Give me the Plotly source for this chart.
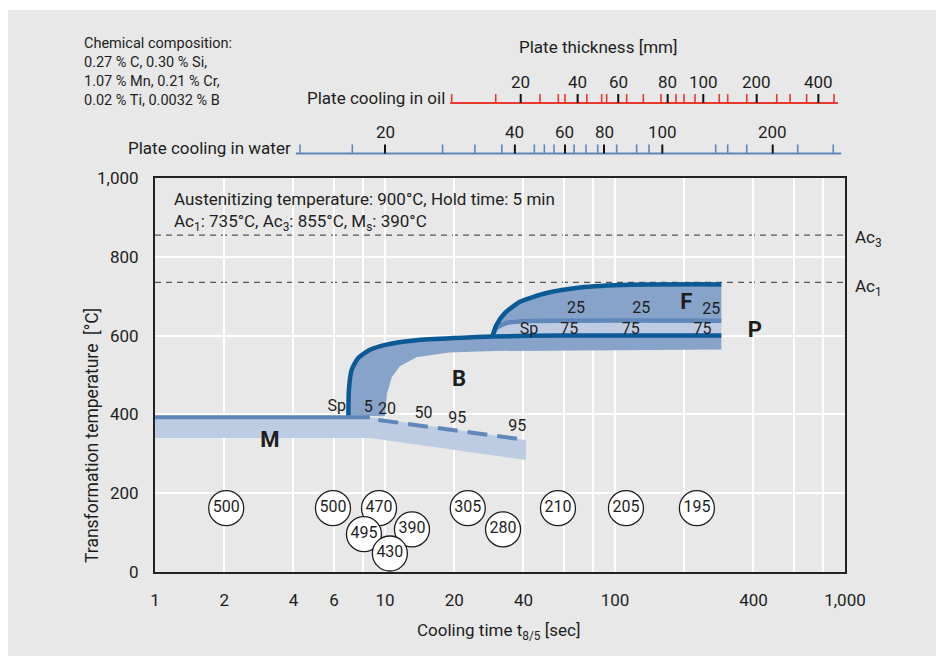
import math
import plotly.graph_objects as go

# ---------------- data ----------------
# hardness circles (cooling time t8/5 [s], temperature position [°C], HV value)
hardness_t = [2.04, 5.94, 9.42, 8.1, 13.1, 10.5, 22.9, 32.6, 56.5, 111.6, 227]
hardness_T = [162, 162, 162, 96, 108, 47, 162, 108, 162, 162, 162]
hardness_val = ["500", "500", "470", "495", "390", "430", "305", "280", "210", "205", "195"]

# martensite start line and martensite band
ms_t = [1, 8.6]
ms_T = [393, 393]
m_top_t = [1, 8.6, 41]
m_top_T = [393, 393, 335]
m_bot_t = [1, 8.6, 41]
m_bot_T = [340, 340, 284]
m_dash_t = [9.35, 41]
m_dash_T = [386, 335]

# bainite start (outer) curve and inner boundary of the bainite band
b_out_t = [6.93, 6.97, 7.16, 7.65, 8.6, 10.15, 13.7, 20.4, 29.4, 60, 290]
b_out_T = [397, 463, 513, 543, 564, 577, 588, 594, 598, 600, 600]
b_in_t = [10.0, 10.2, 10.7, 11.6, 13.7, 19, 30, 80, 290]
b_in_T = [395, 452, 494, 522, 545, 557, 561, 563, 565]

# ferrite start curve and pearlite start line
f_t = [29.4, 30.5, 33.2, 38.6, 50.4, 70.4, 116, 290]
f_T = [600, 627, 657, 686, 708, 722, 729, 730]
p_t = [29.4, 30.5, 33.7, 42.6, 290]
p_T = [600, 619, 632, 637, 638]

# transformation percentage labels
lab_t = [6.17, 8.45, 10.2, 14.7, 20.6, 37.6, 67.6, 130, 262, 42.3, 63.2, 117, 240]
lab_T = [420, 417, 412, 401, 389, 368, 667, 667, 666, 615, 615, 615, 615]
lab_text = ["Sp", "5", "20", "50", "95", "95", "25", "25", "25", "Sp", "75", "75", "75"]
# phase labels
phase_t = [3.16, 21.0, 204, 406]
phase_T = [332, 487, 682, 610]
phase_text = ["M", "B", "F", "P"]

# critical temperatures
ac3 = 855
ac1 = 735

# plate thickness scales (cooling time positions of the scale ticks)
oil_range_t = [19.2, 931]
oil_minor_t = [19.5, 30.3, 47.2, 56.7, 60.6, 75.4, 87.5, 92.0, 112.4, 132.8, 158.5,
               184.2, 199.5, 222.7, 284, 309, 374, 505, 577, 681, 896]
oil_major_t = [38.9, 68.8, 103.3, 169.4, 242, 413, 766]
oil_major_lab = ["20", "40", "60", "80", "100", "200", "400"]

water_range_t = [4.1, 962]
water_minor_t = [4.27, 7.21, 17.8, 24.6, 32.2, 44.6, 49.3, 54.3, 66.4, 74.8, 84.1,
                 101.7, 124.2, 140.6, 274, 309, 374, 623, 889]
water_major_t = [10.0, 36.7, 60.6, 89.6, 160.6, 485]
water_major_lab = ["20", "40", "60", "80", "100", "200"]

x_tickvals = [1, 2, 4, 6, 10, 20, 40, 100, 400, 1000]
x_ticktext = ["1", "2", "4", "6", "10", "20", "40", "100", "400", "1,000"]
x_gridonly = [8, 60, 80, 200, 600, 800]
y_tickvals = [0, 200, 400, 600, 800, 1000]
y_ticktext = ["0", "200", "400", "600", "800", "1,000"]

composition = ["Chemical composition:", "0.27 % C, 0.30 % Si,",
               "1.07 % Mn, 0.21 % Cr,", "0.02 % Ti, 0.0032 % B"]
conditions = ["Austenitizing temperature: 900°C, Hold time: 5 min",
              "Ac<sub>1</sub>: 735°C, Ac<sub>3</sub>: 855°C, M<sub>s</sub>: 390°C"]

# ---------------- style ----------------
OFF = 8                     # page body margin
W, H = 944 - OFF, 660 - OFF
ML, MT = 155 - OFF, 178 - OFF
MR = W - (845 - OFF)
MB = H - (572 - OFF)
PW, PH = W - ML - MR, H - MT - MB
FONT = "Roboto"
TXT = "#1e1e1e"
BG = "#e7e8e7"
DARK = "#0b5a96"
MEDLINE = "#5f87ba"
MEDFILL = "#87a3c9"
LIGHT = "#bdcce3"
RED = "#e8392f"


def px(xp):
    """page pixel x -> paper"""
    return (xp - OFF - ML) / PW


def py(yp):
    """page pixel y -> paper"""
    return (H - MB - (yp - OFF)) / PH


fig = go.Figure()

# martensite band (light)
fig.add_trace(go.Scatter(x=m_top_t + m_bot_t[::-1], y=m_top_T + m_bot_T[::-1],
                         fill="toself", fillcolor=LIGHT, line=dict(width=0),
                         mode="lines", hoverinfo="skip", showlegend=False))
# bainite band (medium)
fig.add_trace(go.Scatter(x=b_out_t + b_in_t[::-1], y=b_out_T + b_in_T[::-1],
                         fill="toself", fillcolor=MEDFILL, line=dict(width=0),
                         mode="lines", hoverinfo="skip", showlegend=False))
# ferrite band (medium)
fig.add_trace(go.Scatter(x=f_t + p_t[::-1], y=f_T + p_T[::-1],
                         fill="toself", fillcolor=MEDFILL, line=dict(width=0),
                         mode="lines", hoverinfo="skip", showlegend=False))
# pearlite band (light)
b_tail = [(t, T) for t, T in zip(b_out_t, b_out_T) if t >= p_t[0]]
fig.add_trace(go.Scatter(x=p_t + [t for t, _ in b_tail][::-1],
                         y=p_T + [T for _, T in b_tail][::-1],
                         fill="toself", fillcolor=LIGHT, line=dict(width=0),
                         mode="lines", hoverinfo="skip", showlegend=False))

# lines
fig.add_trace(go.Scatter(x=ms_t, y=ms_T, mode="lines",
                         line=dict(color=MEDLINE, width=4), showlegend=False, hoverinfo="skip"))
fig.add_trace(go.Scatter(x=m_dash_t, y=m_dash_T, mode="lines",
                         line=dict(color=MEDLINE, width=4, dash="20px,10px"),
                         showlegend=False, hoverinfo="skip"))
fig.add_trace(go.Scatter(x=p_t, y=p_T, mode="lines",
                         line=dict(color=MEDLINE, width=4.5, shape="spline", smoothing=0.6),
                         showlegend=False, hoverinfo="skip"))
fig.add_trace(go.Scatter(x=b_out_t, y=b_out_T, mode="lines",
                         line=dict(color=DARK, width=4.5, shape="spline", smoothing=0.6),
                         showlegend=False, hoverinfo="skip"))
fig.add_trace(go.Scatter(x=f_t, y=f_T, mode="lines",
                         line=dict(color=DARK, width=4.5, shape="spline", smoothing=0.6),
                         showlegend=False, hoverinfo="skip"))

# labels
fig.add_trace(go.Scatter(x=lab_t, y=lab_T, mode="text", text=lab_text,
                         textfont=dict(family=FONT, size=16, color=TXT),
                         showlegend=False, hoverinfo="skip", cliponaxis=False))
fig.add_trace(go.Scatter(x=phase_t, y=phase_T, mode="text", text=["<b>%s</b>" % s for s in phase_text],
                         textfont=dict(family=FONT, size=22, color=TXT),
                         showlegend=False, hoverinfo="skip", cliponaxis=False))

# hardness circles
fig.add_trace(go.Scatter(x=hardness_t, y=hardness_T, mode="markers+text", text=hardness_val,
                         textposition="middle center",
                         marker=dict(size=35, color="white", line=dict(color="#1e1e1e", width=1.3)),
                         textfont=dict(family=FONT, size=16, color=TXT),
                         showlegend=False, hoverinfo="skip", cliponaxis=False))

shapes = []
# background panel
shapes.append(dict(type="rect", xref="paper", yref="paper", x0=px(8), x1=px(942), y0=py(656), y1=py(10),
                   fillcolor=BG, line=dict(width=0), layer="below"))
# Ac lines
for v in (ac3, ac1):
    shapes.append(dict(type="line", xref="paper", yref="y", x0=0, x1=1, y0=v, y1=v,
                       line=dict(color="#555555", width=1.3, dash="6px,5px"), layer="below"))


def add_scale(line_y, rng, minor, major, color):
    y0 = py(line_y)
    y1 = py(line_y - 9)
    shapes.append(dict(type="line", xref="x", yref="paper", x0=rng[0], x1=rng[1], y0=y0, y1=y0,
                       line=dict(color=color, width=2)))
    for t in minor:
        shapes.append(dict(type="line", xref="x", yref="paper", x0=t, x1=t, y0=y0, y1=y1,
                           line=dict(color=color, width=1.6)))
    for t in major:
        shapes.append(dict(type="line", xref="x", yref="paper", x0=t, x1=t, y0=y0, y1=y1,
                           line=dict(color="#111111", width=2)))


add_scale(103, oil_range_t, oil_minor_t, oil_major_t, RED)
add_scale(153.5, water_range_t, water_minor_t, water_major_t, MEDLINE)

ann = []
for t, s in zip(oil_major_t, oil_major_lab):
    ann.append(dict(x=math.log10(t), y=py(82), xref="x", yref="paper", text=s, showarrow=False,
                    font=dict(family=FONT, size=17, color=TXT), xanchor="center", yanchor="middle"))
for t, s in zip(water_major_t, water_major_lab):
    ann.append(dict(x=math.log10(t), y=py(132), xref="x", yref="paper", text=s, showarrow=False,
                    font=dict(family=FONT, size=17, color=TXT), xanchor="center", yanchor="middle"))


def text_px(x, y, s, size=17, xanchor="left", angle=0, yanchor="middle"):
    ann.append(dict(x=px(x), y=py(y), xref="paper", yref="paper", text=s, showarrow=False,
                    font=dict(family=FONT, size=size, color=TXT), xanchor=xanchor, yanchor=yanchor,
                    textangle=angle, align="left"))


text_px(598, 47, "Plate thickness [mm]", 17, "center")
text_px(447, 98, "Plate cooling in oil", 17, "right")
text_px(293, 148, "Plate cooling in water", 17, "right")
text_px(82, 72, "<br>".join(composition), 14.5)
text_px(172, 211, "<br>".join(conditions), 17)
text_px(853, 238, "Ac<sub>3</sub>", 17)
text_px(853, 287, "Ac<sub>1</sub>", 17)
text_px(92, 436, "Transformation temperature&nbsp;&nbsp;[°C]", 17.5, "center", -90)
text_px(498, 631, "Cooling time t<sub>8/5</sub> [sec]", 17, "center")

fig.update_layout(
    width=W, height=H,
    margin=dict(l=ML, r=MR, t=MT, b=MB, pad=0),
    paper_bgcolor="white", plot_bgcolor=BG,
    font=dict(family=FONT, size=17, color=TXT),
    shapes=shapes, annotations=ann, showlegend=False,
    xaxis=dict(type="log", range=[0, 3], tickmode="array", tickvals=x_tickvals, ticktext=x_ticktext,
               showgrid=True, gridcolor="white", gridwidth=2, zeroline=False,
               minor=dict(tickmode="array", tickvals=x_gridonly, showgrid=True,
                          gridcolor="white", gridwidth=2, ticks=""),
               showline=True, linecolor="#222222", linewidth=2, mirror=True,
               ticks="", ticklabelstandoff=12, tickfont=dict(family=FONT, size=17, color=TXT)),
    yaxis=dict(range=[0, 1000], tickmode="array", tickvals=y_tickvals, ticktext=y_ticktext,
               showgrid=True, gridcolor="white", gridwidth=2, zeroline=False,
               showline=True, linecolor="#222222", linewidth=2, mirror=True,
               ticks="", ticklabelstandoff=11, tickfont=dict(family=FONT, size=17, color=TXT)),
)

fig.write_html("out.html")
